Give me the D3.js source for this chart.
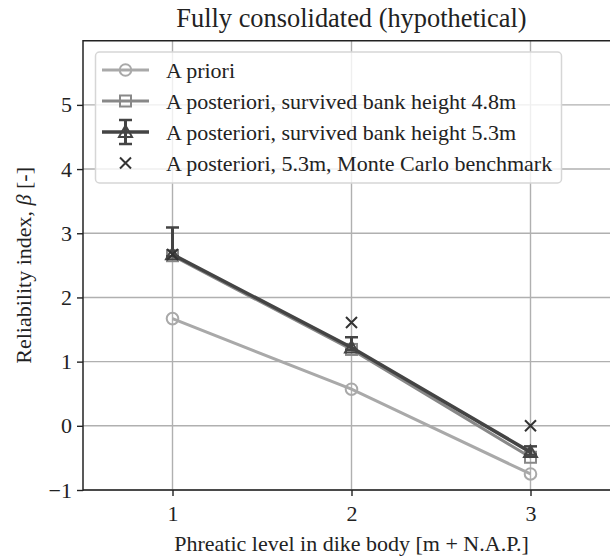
<!DOCTYPE html>
<html>
<head>
<meta charset="utf-8">
<script src="https://cdn.jsdelivr.net/npm/d3@7"></script>
<style>
  body { margin: 0; background: #fff; overflow: hidden; }
  svg { display: block; font-family: "Liberation Serif", "Times New Roman", serif; }
</style>
</head>
<body>
<div id="chart"></div>
<script>
// phreatic level [m + N.A.P.]
const levels = [1, 2, 3];
const aPriori = [1.67, 0.57, -0.75];
const post48 = [2.65, 1.19, -0.49];
const post53 = [2.67, 1.22, -0.41];
const post53ErrLow = [0.03, 0.04, 0.04];
const post53ErrHigh = [0.42, 0.16, 0.09];
const monteCarlo = [2.67, 1.61, 0.0];
const yTicks = [-1, 0, 1, 2, 3, 4, 5];
const xTicks = [1, 2, 3];

const W = 610, H = 556;
const margin = { top: 40.7, right: -10, bottom: 66, left: 83 };

const svg = d3.select("#chart")
  .append("svg")
  .attr("width", W)
  .attr("height", H);

const x = d3.scaleLinear()
  .domain([0.5, 3.5])
  .range([margin.left, W - margin.right]);

const y = d3.scaleLinear()
  .domain([-1, 6])
  .range([H - margin.bottom, margin.top]);

// grid
svg.append("g")
  .selectAll("line.gx")
  .data(xTicks)
  .enter().append("line")
  .attr("x1", d => x(d)).attr("x2", d => x(d))
  .attr("y1", y(-1)).attr("y2", y(6))
  .attr("stroke", "#b0b0b0").attr("stroke-width", 1.4);

svg.append("g")
  .selectAll("line.gy")
  .data(yTicks)
  .enter().append("line")
  .attr("x1", x(0.5)).attr("x2", x(3.5))
  .attr("y1", d => y(d)).attr("y2", d => y(d))
  .attr("stroke", "#b0b0b0").attr("stroke-width", 1.4);

// axes
const xAxis = svg.append("g")
  .attr("transform", "translate(0," + y(-1) + ")")
  .call(d3.axisBottom(x).tickValues(xTicks).tickFormat(d3.format("d")).tickSize(6).tickPadding(9));
const yAxis = svg.append("g")
  .attr("transform", "translate(" + x(0.5) + ",0)")
  .call(d3.axisLeft(y).tickValues(yTicks).tickFormat(d3.format("d")).tickSize(6).tickPadding(5));

[xAxis, yAxis].forEach(a => {
  a.select(".domain").remove();
  a.selectAll("line").attr("stroke", "#222").attr("stroke-width", 1.4);
  a.selectAll("text")
    .style("font-family", "Liberation Serif, serif")
    .style("font-size", "22px")
    .attr("fill", "#222");
});

// spines (the right one falls outside the picture)
svg.append("line").attr("x1", x(0.5)).attr("x2", x(0.5)).attr("y1", y(-1) + 0.7).attr("y2", y(6) - 0.7)
  .attr("stroke", "#222").attr("stroke-width", 1.5);
svg.append("line").attr("x1", x(0.5)).attr("x2", x(3.5)).attr("y1", y(-1)).attr("y2", y(-1))
  .attr("stroke", "#222").attr("stroke-width", 1.5);
svg.append("line").attr("x1", x(0.5)).attr("x2", x(3.5)).attr("y1", y(6)).attr("y2", y(6))
  .attr("stroke", "#222").attr("stroke-width", 1.5);

const line = d3.line().x((d, i) => x(levels[i])).y(d => y(d));

const colPrior = "#a9a9a9", col48 = "#888888", col53 = "#444444", colMC = "#333333";

function drawCircle(g, cx, cy, col) {
  g.append("circle").attr("cx", cx).attr("cy", cy).attr("r", 5.8)
    .attr("fill", "none").attr("stroke", col).attr("stroke-width", 2);
}
function drawSquare(g, cx, cy, col) {
  g.append("rect").attr("x", cx - 5.5).attr("y", cy - 5.5).attr("width", 11).attr("height", 11)
    .attr("fill", "none").attr("stroke", col).attr("stroke-width", 2);
}
function drawTriangle(g, cx, cy, col) {
  const s = 6.5;
  g.append("path")
    .attr("d", `M${cx},${cy - s} L${cx + s},${cy + s * 0.75} L${cx - s},${cy + s * 0.75} Z`)
    .attr("fill", "none").attr("stroke", col).attr("stroke-width", 2);
}
function drawCross(g, cx, cy, col) {
  const s = 5.5;
  g.append("path")
    .attr("d", `M${cx - s},${cy - s} L${cx + s},${cy + s} M${cx - s},${cy + s} L${cx + s},${cy - s}`)
    .attr("stroke", col).attr("stroke-width", 2);
}

// A priori
svg.append("path").datum(aPriori).attr("d", line)
  .attr("fill", "none").attr("stroke", colPrior).attr("stroke-width", 3);
aPriori.forEach((v, i) => drawCircle(svg, x(levels[i]), y(v), colPrior));

// A posteriori 4.8m
svg.append("path").datum(post48).attr("d", line)
  .attr("fill", "none").attr("stroke", col48).attr("stroke-width", 3);
post48.forEach((v, i) => drawSquare(svg, x(levels[i]), y(v), col48));

// A posteriori 5.3m with error bars
post53.forEach((v, i) => {
  const cx = x(levels[i]);
  const top = y(v + post53ErrHigh[i]), bot = y(v - post53ErrLow[i]);
  svg.append("line").attr("x1", cx).attr("x2", cx).attr("y1", top).attr("y2", bot)
    .attr("stroke", col53).attr("stroke-width", 3);
  [top, bot].forEach(yy => svg.append("line")
    .attr("x1", cx - 6.5).attr("x2", cx + 6.5).attr("y1", yy).attr("y2", yy)
    .attr("stroke", col53).attr("stroke-width", 2.5));
});
svg.append("path").datum(post53).attr("d", line)
  .attr("fill", "none").attr("stroke", col53).attr("stroke-width", 3.5);
post53.forEach((v, i) => drawTriangle(svg, x(levels[i]), y(v), col53));

// Monte Carlo benchmark
monteCarlo.forEach((v, i) => drawCross(svg, x(levels[i]), y(v), colMC));

// legend
const lg = svg.append("g");
lg.append("rect")
  .attr("x", 95.5).attr("y", 52).attr("width", 466).attr("height", 131).attr("rx", 4)
  .attr("fill", "#fff").attr("fill-opacity", 0.8)
  .attr("stroke", "#d6d6d6").attr("stroke-width", 1.5);

const legendItems = [
  { label: "A priori", col: colPrior, marker: drawCircle, lineW: 3 },
  { label: "A posteriori, survived bank height 4.8m", col: col48, marker: drawSquare, lineW: 3 },
  { label: "A posteriori, survived bank height 5.3m", col: col53, marker: drawTriangle, lineW: 3.5, err: true },
  { label: "A posteriori, 5.3m, Monte Carlo benchmark", col: colMC, marker: drawCross, lineW: 0 }
];
const rowY = d3.scalePoint().domain(d3.range(legendItems.length)).range([70, 163]);

legendItems.forEach((d, i) => {
  const yy = rowY(i), cx = 125.5;
  if (d.lineW) {
    lg.append("line").attr("x1", 102).attr("x2", 149).attr("y1", yy).attr("y2", yy)
      .attr("stroke", d.col).attr("stroke-width", d.lineW);
  }
  if (d.err) {
    lg.append("line").attr("x1", cx).attr("x2", cx).attr("y1", yy - 12).attr("y2", yy + 12)
      .attr("stroke", d.col).attr("stroke-width", 3);
    [yy - 12, yy + 12].forEach(cy => lg.append("line")
      .attr("x1", cx - 6.5).attr("x2", cx + 6.5).attr("y1", cy).attr("y2", cy)
      .attr("stroke", d.col).attr("stroke-width", 2.5));
  }
  d.marker(lg, cx, yy, d.col);
  lg.append("text")
    .attr("x", 166).attr("y", yy).attr("dy", "0.35em")
    .style("font-size", "22px").attr("fill", "#222")
    .text(d.label);
});

// title and labels
svg.append("text")
  .attr("x", (x(0.5) + x(3.5)) / 2).attr("y", 27)
  .attr("text-anchor", "middle")
  .style("font-size", "26.4px").attr("fill", "#222")
  .text("Fully consolidated (hypothetical)");

svg.append("text")
  .attr("x", (x(0.5) + x(3.5)) / 2).attr("y", 551)
  .attr("text-anchor", "middle")
  .style("font-size", "22px").attr("fill", "#222")
  .text("Phreatic level in dike body [m + N.A.P.]");

const yl = svg.append("text")
  .attr("transform", "translate(31," + (y(-1) + y(6)) / 2 + ") rotate(-90)")
  .attr("text-anchor", "middle")
  .style("font-size", "22px").attr("fill", "#222");
yl.append("tspan").text("Reliability index, ");
yl.append("tspan").style("font-style", "italic").text("β");
yl.append("tspan").text(" [-]");
</script>
</body>
</html>
